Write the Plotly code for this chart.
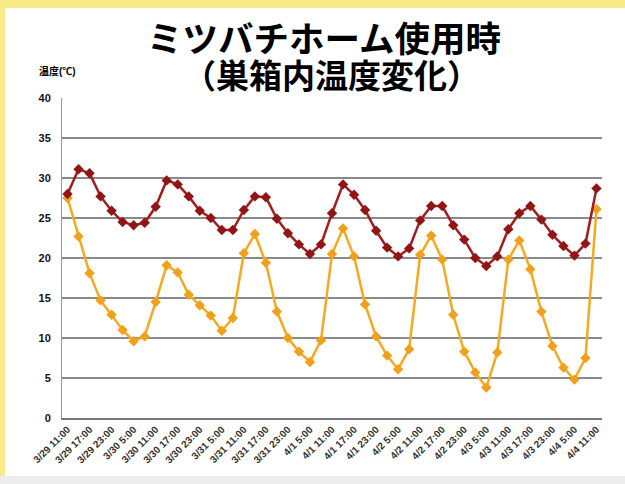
import plotly.graph_objects as go

# Category labels (every 3 hours); only every other one is shown on the axis
tick_labels = [
    "3/29 11:00", "3/29 17:00", "3/29 23:00", "3/30 5:00", "3/30 11:00",
    "3/30 17:00", "3/30 23:00", "3/31 5:00", "3/31 11:00", "3/31 17:00",
    "3/31 23:00", "4/1 5:00", "4/1 11:00", "4/1 17:00", "4/1 23:00",
    "4/2 5:00", "4/2 11:00", "4/2 17:00", "4/2 23:00", "4/3 5:00",
    "4/3 11:00", "4/3 17:00", "4/3 23:00", "4/4 5:00", "4/4 11:00",
]

inside_temp = [
    28.0, 31.1, 30.6, 27.7, 25.9, 24.5, 24.1, 24.4, 26.4, 29.7,
    29.2, 27.7, 25.9, 25.0, 23.5, 23.5, 26.0, 27.7, 27.6, 24.9,
    23.1, 21.7, 20.5, 21.7, 25.6, 29.2, 27.9, 26.0, 23.4, 21.3,
    20.2, 21.2, 24.7, 26.5, 26.5, 24.1, 22.3, 20.0, 19.0, 20.2,
    23.6, 25.6, 26.5, 24.8, 22.9, 21.5, 20.3, 21.8, 28.7,
]

outside_temp = [
    27.5, 22.7, 18.1, 14.7, 12.9, 11.0, 9.6, 10.2, 14.5, 19.1,
    18.2, 15.4, 14.1, 12.8, 10.9, 12.5, 20.6, 23.0, 19.4, 13.3,
    10.0, 8.3, 7.0, 9.7, 20.5, 23.7, 20.2, 14.2, 10.2, 7.8,
    6.1, 8.6, 20.4, 22.8, 19.8, 12.9, 8.3, 5.7, 3.8, 8.2,
    19.8, 22.2, 18.6, 13.3, 9.0, 6.3, 4.8, 7.5, 26.1,
]

y_ticks = [0, 5, 10, 15, 20, 25, 30, 35, 40]

x_idx = list(range(len(inside_temp)))
tick_pos = list(range(0, len(inside_temp), 2))

fig = go.Figure()
fig.add_trace(go.Scatter(
    x=x_idx, y=outside_temp, mode="lines+markers",
    line=dict(color="#F5A923", width=2.5),
    marker=dict(symbol="diamond", size=8, color="#F0A01A"),
    showlegend=False,
))
fig.add_trace(go.Scatter(
    x=x_idx, y=inside_temp, mode="lines+markers",
    line=dict(color="#A21D1D", width=2.5),
    marker=dict(symbol="diamond", size=8, color="#921515"),
    showlegend=False,
))

W, H = 625, 484
pl, pr, pt, pb = 62, 23, 98, 66
pw, ph = W - pl - pr, H - pt - pb


def px_x(x):
    return (x - pl) / pw


def px_y(y):
    return (H - pb - y) / ph


fig.update_layout(
    width=W, height=H,
    margin=dict(l=pl, r=pr, t=pt, b=pb),
    paper_bgcolor="white", plot_bgcolor="white",
    font=dict(family="Liberation Sans, Arial, sans-serif", color="black"),
    xaxis=dict(
        range=[-0.5, len(inside_temp) - 0.5],
        tickmode="array", tickvals=tick_pos,
        ticktext=["<b>%s</b>" % t for t in tick_labels],
        tickangle=-45, tickfont=dict(size=10, family="Liberation Sans", color="#333"),
        showgrid=False, zeroline=False, automargin=False,
        showline=True, linecolor="#777", linewidth=1.5,
        ticks="", fixedrange=True,
    ),
    yaxis=dict(
        range=[0, 40], tickmode="array", tickvals=y_ticks,
        ticktext=["<b>%d</b>" % v for v in y_ticks],
        tickfont=dict(size=11, family="Liberation Sans", color="#111"),
        showgrid=True, gridcolor="#8a8a8a", gridwidth=1.5,
        zeroline=False, showline=True, linecolor="#999", linewidth=1,
        ticks="", ticklabelstandoff=8, automargin=False,
    ),
    shapes=[
        dict(type="rect", xref="paper", yref="paper", layer="below",
             x0=px_x(0), x1=px_x(W), y0=px_y(8), y1=px_y(0),
             fillcolor="#F8EC8A", line=dict(width=0)),
        dict(type="rect", xref="paper", yref="paper", layer="below",
             x0=px_x(0), x1=px_x(5), y0=px_y(H), y1=px_y(0),
             fillcolor="#F8EC8A", line=dict(width=0)),
        dict(type="rect", xref="paper", yref="paper", layer="below",
             x0=px_x(0), x1=px_x(W), y0=px_y(H), y1=px_y(476),
             fillcolor="#EDEDED", line=dict(width=0)),
    ],
)

title_font = "Liberation Sans, Noto Sans CJK JP"
fig.add_annotation(
    text="<b>ミツバチホーム使用時</b>", xref="paper", yref="paper",
    x=px_x(324), y=px_y(40), xanchor="center", yanchor="middle", showarrow=False,
    font=dict(size=35.5, family=title_font, color="black"),
)
fig.add_annotation(
    text="<b>（巣箱内温度変化）</b>", xref="paper", yref="paper",
    x=px_x(331), y=px_y(77), xanchor="center", yanchor="middle", showarrow=False,
    font=dict(size=33, family=title_font, color="black"),
)
fig.add_annotation(
    text="<b>温度(℃)</b>", xref="paper", yref="paper",
    x=px_x(57), y=px_y(71), xanchor="center", yanchor="middle", showarrow=False,
    font=dict(size=10, family=title_font, color="black"),
)

fig.write_html("out.html", config={"displayModeBar": False},
               post_script="document.body.style.margin='0';")
